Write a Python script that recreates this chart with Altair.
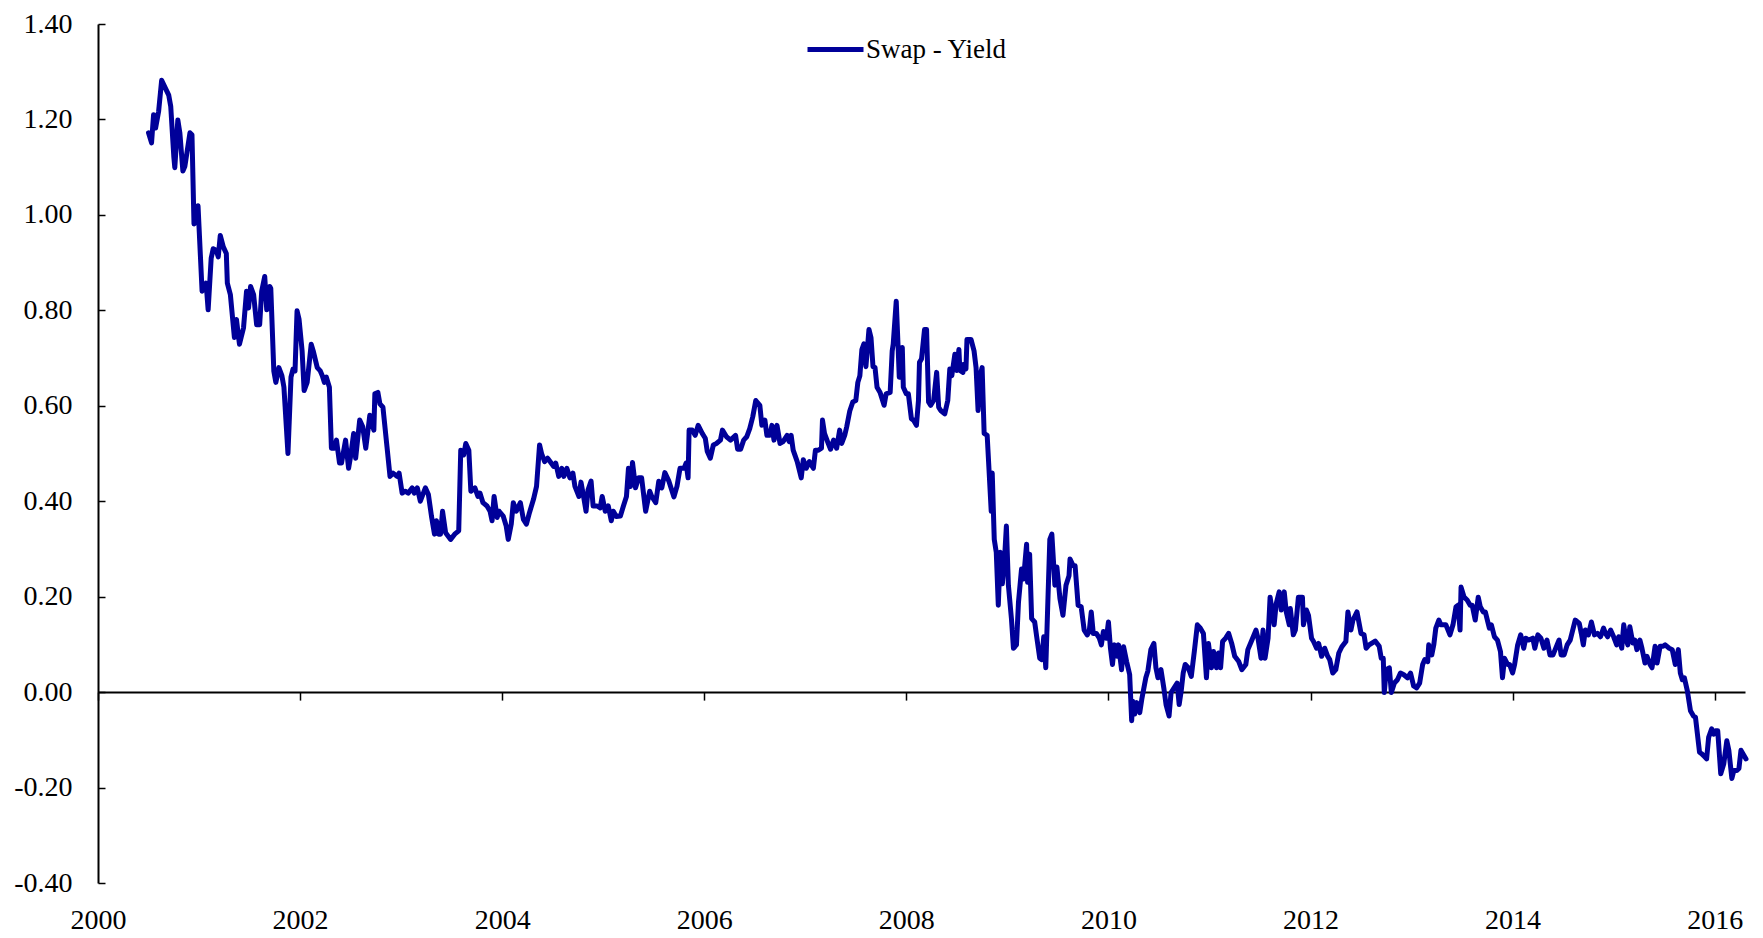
import altair as alt
import pandas as pd

# ---------------- data ----------------
series_name = "Swap - Yield"

years_a = [2000.50, 2000.53, 2000.55, 2000.57, 2000.60, 2000.63, 2000.70, 2000.72, 2000.75, 2000.76,
           2000.79, 2000.81, 2000.84, 2000.86, 2000.91, 2000.93, 2000.95, 2000.97, 2000.99, 2001.03,
           2001.07, 2001.09, 2001.12, 2001.14, 2001.17, 2001.19, 2001.21, 2001.24, 2001.27, 2001.28,
           2001.31, 2001.35, 2001.37, 2001.40, 2001.44, 2001.47, 2001.49, 2001.51, 2001.54, 2001.57,
           2001.60, 2001.62, 2001.65, 2001.67, 2001.70, 2001.71, 2001.74, 2001.76, 2001.79, 2001.82,
           2001.84, 2001.88, 2001.91, 2001.93, 2001.95, 2001.97, 2001.99, 2002.02, 2002.04, 2002.07,
           2002.11, 2002.13, 2002.17, 2002.20, 2002.22, 2002.24, 2002.26, 2002.29, 2002.31, 2002.34,
           2002.36, 2002.39, 2002.41, 2002.45, 2002.48, 2002.50, 2002.53, 2002.55, 2002.59, 2002.62,
           2002.65, 2002.69, 2002.73, 2002.74, 2002.77, 2002.79, 2002.82, 2002.86, 2002.89, 2002.92,
           2002.96, 2002.98, 2003.01, 2003.04, 2003.07, 2003.11, 2003.13, 2003.16, 2003.19, 2003.24,
           2003.27, 2003.30, 2003.33, 2003.35, 2003.37, 2003.39, 2003.41, 2003.44, 2003.49, 2003.53,
           2003.57, 2003.59, 2003.62, 2003.64, 2003.67, 2003.69, 2003.73, 2003.76, 2003.78, 2003.81,
           2003.85, 2003.88, 2003.90, 2003.92, 2003.95, 2003.97, 2004.01, 2004.04, 2004.06, 2004.09,
           2004.11, 2004.14, 2004.18, 2004.21, 2004.24, 2004.27, 2004.31, 2004.34, 2004.37, 2004.39,
           2004.42, 2004.45]
values_a = [1.172, 1.151, 1.210, 1.182, 1.217, 1.282, 1.251, 1.227, 1.123, 1.099,
            1.199, 1.172, 1.092, 1.102, 1.172, 1.168, 0.981, 0.985, 1.019, 0.840,
            0.857, 0.801, 0.909, 0.929, 0.926, 0.912, 0.957, 0.933, 0.919, 0.857,
            0.833, 0.743, 0.781, 0.729, 0.763, 0.840, 0.805, 0.850, 0.833, 0.770,
            0.770, 0.840, 0.871, 0.801, 0.850, 0.846, 0.673, 0.649, 0.680, 0.663,
            0.639, 0.500, 0.660, 0.677, 0.673, 0.799, 0.781, 0.715, 0.632, 0.649,
            0.729, 0.715, 0.680, 0.673, 0.663, 0.649, 0.660, 0.639, 0.511, 0.511,
            0.528, 0.480, 0.480, 0.528, 0.469, 0.494, 0.542, 0.490, 0.570, 0.556,
            0.511, 0.580, 0.549, 0.625, 0.628, 0.604, 0.597, 0.514, 0.452, 0.459,
            0.452, 0.459, 0.417, 0.421, 0.417, 0.428, 0.417, 0.428, 0.400, 0.428,
            0.414, 0.369, 0.331, 0.359, 0.331, 0.331, 0.379, 0.334, 0.320, 0.331,
            0.338, 0.507, 0.497, 0.521, 0.507, 0.421, 0.428, 0.410, 0.417, 0.397,
            0.390, 0.379, 0.359, 0.410, 0.366, 0.379, 0.369, 0.348, 0.320, 0.352,
            0.397, 0.379, 0.397, 0.362, 0.352, 0.376, 0.404, 0.431, 0.518, 0.500,
            0.483, 0.490]

years_b = [2004.51, 2004.53, 2004.56, 2004.59, 2004.61, 2004.64, 2004.67, 2004.70, 2004.72, 2004.76,
           2004.78, 2004.80, 2004.83, 2004.85, 2004.88, 2004.90, 2004.94, 2004.97, 2004.99, 2005.02,
           2005.05, 2005.08, 2005.10, 2005.13, 2005.17, 2005.20, 2005.23, 2005.25, 2005.27, 2005.29,
           2005.32, 2005.35, 2005.38, 2005.42, 2005.46, 2005.48, 2005.52, 2005.55, 2005.58, 2005.61,
           2005.65, 2005.70, 2005.73, 2005.76, 2005.80, 2005.82, 2005.84, 2005.85, 2005.88, 2005.91,
           2005.94, 2005.98, 2006.01, 2006.03, 2006.06, 2006.09, 2006.12, 2006.16, 2006.18, 2006.22,
           2006.26, 2006.31, 2006.33, 2006.36, 2006.39, 2006.42, 2006.45, 2006.48, 2006.51, 2006.55,
           2006.57, 2006.60, 2006.62, 2006.65, 2006.67, 2006.69, 2006.72, 2006.75, 2006.78, 2006.82,
           2006.84, 2006.86, 2006.88, 2006.92, 2006.96, 2006.98, 2007.01, 2007.04, 2007.08, 2007.10,
           2007.13, 2007.16, 2007.17, 2007.19, 2007.22, 2007.25, 2007.28, 2007.31, 2007.34, 2007.36,
           2007.39, 2007.41, 2007.44, 2007.47, 2007.50, 2007.52, 2007.54, 2007.56, 2007.58, 2007.60,
           2007.63, 2007.65, 2007.67, 2007.69, 2007.71, 2007.74, 2007.78, 2007.80, 2007.84, 2007.86,
           2007.87, 2007.90, 2007.92, 2007.93, 2007.96, 2007.97, 2008.00, 2008.02, 2008.05, 2008.07,
           2008.10, 2008.12, 2008.13, 2008.15, 2008.18, 2008.20, 2008.22, 2008.24, 2008.27, 2008.30,
           2008.32, 2008.34, 2008.38, 2008.41, 2008.43, 2008.45, 2008.48, 2008.50, 2008.52, 2008.53,
           2008.56, 2008.57, 2008.59, 2008.60, 2008.64, 2008.67, 2008.69, 2008.71, 2008.73, 2008.75,
           2008.77, 2008.80]
values_b = [0.473, 0.480, 0.452, 0.469, 0.452, 0.469, 0.449, 0.459, 0.431, 0.410,
            0.440, 0.417, 0.379, 0.424, 0.442, 0.390, 0.390, 0.386, 0.410, 0.379,
            0.390, 0.359, 0.379, 0.368, 0.369, 0.390, 0.410, 0.469, 0.431, 0.481,
            0.428, 0.449, 0.449, 0.379, 0.421, 0.410, 0.397, 0.442, 0.428, 0.460,
            0.442, 0.409, 0.431, 0.469, 0.469, 0.480, 0.449, 0.549, 0.549, 0.538,
            0.559, 0.542, 0.532, 0.504, 0.490, 0.518, 0.521, 0.528, 0.549, 0.535,
            0.528, 0.538, 0.509, 0.509, 0.528, 0.535, 0.552, 0.577, 0.611, 0.601,
            0.559, 0.570, 0.538, 0.538, 0.559, 0.528, 0.559, 0.521, 0.525, 0.538,
            0.525, 0.538, 0.507, 0.483, 0.449, 0.487, 0.469, 0.483, 0.469, 0.507,
            0.507, 0.511, 0.570, 0.542, 0.525, 0.509, 0.528, 0.511, 0.549, 0.521,
            0.538, 0.556, 0.589, 0.608, 0.611, 0.649, 0.663, 0.718, 0.730, 0.682,
            0.760, 0.743, 0.682, 0.680, 0.639, 0.628, 0.601, 0.625, 0.628, 0.715,
            0.729, 0.819, 0.715, 0.660, 0.722, 0.639, 0.625, 0.625, 0.573, 0.570,
            0.559, 0.611, 0.691, 0.698, 0.760, 0.760, 0.608, 0.601, 0.611, 0.670,
            0.597, 0.590, 0.583, 0.611, 0.677, 0.663, 0.708, 0.674, 0.718, 0.674,
            0.670, 0.687, 0.677, 0.739, 0.739, 0.715, 0.680, 0.590, 0.663, 0.680,
            0.542, 0.538]

years_c = [2008.82, 2008.84, 2008.85, 2008.87, 2008.89, 2008.91, 2008.93, 2008.95, 2008.97, 2008.99,
           2009.01, 2009.04, 2009.06, 2009.09, 2009.11, 2009.14, 2009.16, 2009.19, 2009.20, 2009.22,
           2009.24, 2009.27, 2009.29, 2009.32, 2009.34, 2009.36, 2009.38, 2009.42, 2009.44, 2009.47,
           2009.49, 2009.52, 2009.55, 2009.58, 2009.61, 2009.62, 2009.65, 2009.67, 2009.70, 2009.73,
           2009.76, 2009.79, 2009.81, 2009.83, 2009.85, 2009.88, 2009.91, 2009.93, 2009.95, 2009.98,
           2010.00, 2010.02, 2010.04, 2010.06, 2010.09, 2010.10, 2010.13, 2010.15, 2010.18, 2010.21,
           2010.23, 2010.24, 2010.26, 2010.28, 2010.31, 2010.33, 2010.37, 2010.39, 2010.42, 2010.45,
           2010.47, 2010.49, 2010.52, 2010.55, 2010.57, 2010.60, 2010.62, 2010.65, 2010.68, 2010.70,
           2010.72, 2010.74, 2010.76, 2010.79, 2010.82, 2010.85, 2010.88, 2010.91, 2010.94, 2010.97,
           2010.99, 2011.02, 2011.04, 2011.07, 2011.09, 2011.11, 2011.13, 2011.16, 2011.19, 2011.22,
           2011.25, 2011.29, 2011.32, 2011.36, 2011.38, 2011.42, 2011.46, 2011.48, 2011.51, 2011.53,
           2011.55, 2011.58, 2011.60, 2011.64, 2011.66, 2011.69, 2011.71, 2011.74, 2011.76, 2011.79,
           2011.80, 2011.83, 2011.85, 2011.88, 2011.92, 2011.93, 2011.96, 2011.98, 2012.01, 2012.03,
           2012.06, 2012.08, 2012.11, 2012.14, 2012.17, 2012.19, 2012.22, 2012.25, 2012.28, 2012.31,
           2012.35, 2012.37, 2012.40, 2012.42, 2012.46, 2012.50, 2012.53, 2012.55, 2012.58]
values_c = [0.459, 0.379, 0.459, 0.320, 0.293, 0.182, 0.293, 0.227, 0.272, 0.348,
            0.224, 0.154, 0.092, 0.099, 0.189, 0.258, 0.237, 0.310, 0.230, 0.289,
            0.154, 0.147, 0.116, 0.071, 0.068, 0.116, 0.051, 0.320, 0.331, 0.224,
            0.262, 0.196, 0.161, 0.224, 0.244, 0.279, 0.265, 0.265, 0.182, 0.179,
            0.130, 0.120, 0.127, 0.168, 0.123, 0.123, 0.113, 0.099, 0.127, 0.113,
            0.147, 0.092, 0.058, 0.099, 0.075, 0.099, 0.047, 0.095, 0.064, 0.037,
            -0.060, -0.019, -0.046, -0.022, -0.043, -0.015, 0.030, 0.044, 0.089, 0.102,
            0.051, 0.030, 0.047, 0.006, -0.026, -0.050, -0.001, 0.009, 0.019, -0.026,
            0.002, 0.040, 0.058, 0.051, 0.033, 0.085, 0.141, 0.134, 0.123, 0.030,
            0.102, 0.051, 0.085, 0.051, 0.082, 0.051, 0.106, 0.113, 0.123, 0.102,
            0.075, 0.064, 0.047, 0.058, 0.089, 0.109, 0.130, 0.113, 0.071, 0.130,
            0.071, 0.113, 0.199, 0.141, 0.185, 0.210, 0.172, 0.210, 0.168, 0.141,
            0.175, 0.120, 0.130, 0.199, 0.199, 0.141, 0.172, 0.161, 0.113, 0.106,
            0.092, 0.102, 0.075, 0.092, 0.075, 0.068, 0.040, 0.047, 0.082, 0.095,
            0.106, 0.168, 0.130, 0.151, 0.168, 0.123, 0.120, 0.092, 0.099]

years_d = [2012.64, 2012.68, 2012.70, 2012.72, 2012.73, 2012.75, 2012.78, 2012.80, 2012.83, 2012.86,
           2012.89, 2012.92, 2012.96, 2012.99, 2013.02, 2013.05, 2013.08, 2013.11, 2013.13, 2013.16,
           2013.17, 2013.20, 2013.22, 2013.24, 2013.27, 2013.29, 2013.34, 2013.38, 2013.41, 2013.44,
           2013.46, 2013.48, 2013.49, 2013.52, 2013.55, 2013.58, 2013.60, 2013.63, 2013.66, 2013.68,
           2013.71, 2013.73, 2013.77, 2013.79, 2013.82, 2013.85, 2013.88, 2013.90, 2013.92, 2013.95,
           2013.97, 2014.00, 2014.02, 2014.05, 2014.08, 2014.11, 2014.13, 2014.16, 2014.20, 2014.22,
           2014.25, 2014.28, 2014.31, 2014.34, 2014.37, 2014.40, 2014.44, 2014.46, 2014.48, 2014.51,
           2014.54, 2014.57, 2014.60, 2014.62, 2014.66, 2014.68, 2014.70, 2014.72, 2014.75, 2014.78,
           2014.81, 2014.84, 2014.87, 2014.90, 2014.92, 2014.94, 2014.97, 2015.00, 2015.03, 2015.05,
           2015.08, 2015.10, 2015.12, 2015.14, 2015.16, 2015.19, 2015.21, 2015.23, 2015.26, 2015.28,
           2015.31, 2015.33, 2015.36, 2015.38, 2015.41, 2015.43, 2015.46, 2015.49, 2015.51, 2015.55,
           2015.58, 2015.61, 2015.64, 2015.66, 2015.68, 2015.70, 2015.73, 2015.76, 2015.79, 2015.81,
           2015.85, 2015.87, 2015.89, 2015.92, 2015.94, 2015.97, 2015.99, 2016.01, 2016.03, 2016.06,
           2016.09, 2016.12, 2016.14, 2016.17, 2016.19, 2016.22, 2016.24, 2016.26, 2016.28, 2016.31]
values_d = [0.107, 0.096, 0.071, 0.071, -0.001, 0.047, 0.051, -0.001, 0.019, 0.026,
            0.040, 0.037, 0.030, 0.040, 0.013, 0.009, 0.019, 0.058, 0.068, 0.064,
            0.099, 0.078, 0.099, 0.134, 0.151, 0.141, 0.141, 0.120, 0.141, 0.179,
            0.182, 0.130, 0.220, 0.199, 0.193, 0.182, 0.182, 0.151, 0.199, 0.179,
            0.168, 0.168, 0.134, 0.141, 0.116, 0.109, 0.085, 0.030, 0.071, 0.058,
            0.058, 0.040, 0.058, 0.099, 0.120, 0.092, 0.113, 0.109, 0.113, 0.092,
            0.120, 0.113, 0.092, 0.109, 0.078, 0.078, 0.099, 0.109, 0.078, 0.078,
            0.099, 0.109, 0.134, 0.151, 0.144, 0.123, 0.099, 0.130, 0.120, 0.147,
            0.120, 0.123, 0.116, 0.134, 0.123, 0.116, 0.130, 0.116, 0.099, 0.116,
            0.092, 0.141, 0.113, 0.099, 0.137, 0.103, 0.109, 0.089, 0.109, 0.092,
            0.061, 0.075, 0.058, 0.051, 0.096, 0.061, 0.096, 0.096, 0.099, 0.092,
            0.089, 0.058, 0.089, 0.040, 0.026, 0.030, 0.002, -0.039, -0.050, -0.053,
            -0.126, -0.129, -0.133, -0.140, -0.095, -0.077, -0.088, -0.081, -0.081, -0.171,
            -0.150, -0.102, -0.122, -0.181, -0.164, -0.164, -0.160, -0.122, -0.129, -0.140]

x_tick_values = [2000, 2002, 2004, 2006, 2008, 2010, 2012, 2014, 2016]
y_tick_values = [-0.4, -0.2, 0.0, 0.2, 0.4, 0.6, 0.8, 1.0, 1.2, 1.4]
x_domain = [2000, 2016.3]
y_domain = [-0.4, 1.4]

# ---------------- table ----------------
years = years_a + years_b + years_c + years_d
values = values_a + values_b + values_c + values_d
df = pd.DataFrame({"year": years, "value": values, "series": series_name})

# ---------------- style ----------------
W, H = 1647, 859
FONT = "Liberation Serif"
LINE_COLOR = "#000099"
FS = 28
zero_offset = -H * (0 - y_domain[0]) / (y_domain[1] - y_domain[0])

x_scale = alt.Scale(domain=x_domain, nice=False, zero=False)
y_scale = alt.Scale(domain=y_domain, nice=False, zero=False)

y_label_expr = "replace(format(datum.value, '.2f'), '\u2212', '-')"

base = alt.Chart(df)

# axis lines and ticks: x axis crossing at zero, y axis with inside ticks
axes_layer = base.mark_line(opacity=0).encode(
    x=alt.X("year:Q", scale=x_scale,
            axis=alt.Axis(orient="bottom", offset=zero_offset, values=x_tick_values,
                          labels=False, domain=True, domainColor="black", domainWidth=2,
                          ticks=True, tickSize=8, tickColor="black", tickWidth=1.5,
                          grid=False, title=None)),
    y=alt.Y("value:Q", scale=y_scale,
            axis=alt.Axis(orient="right", offset=-W, values=y_tick_values,
                          labels=False, domain=True, domainColor="black", domainWidth=2,
                          ticks=True, tickSize=7, tickColor="black", tickWidth=1.5,
                          grid=False, title=None)),
)

# axis labels only
labels_layer = base.mark_line(opacity=0).encode(
    x=alt.X("year:Q", scale=x_scale,
            axis=alt.Axis(orient="bottom", values=x_tick_values, format="d",
                          domain=False, ticks=False, tickSize=0, labelPadding=23,
                          labelFlush=False, labelOverlap=False, labelFont=FONT,
                          labelFontSize=FS, labelColor="black", grid=False, title=None)),
    y=alt.Y("value:Q", scale=y_scale,
            axis=alt.Axis(orient="left", values=y_tick_values, labelExpr=y_label_expr,
                          domain=False, ticks=False, tickSize=0, labelPadding=26,
                          labelFlush=False, labelOverlap=False, labelFont=FONT,
                          labelFontSize=FS, labelColor="black", grid=False, title=None)),
)

line_layer = base.mark_line(strokeWidth=5, strokeJoin="round", strokeCap="round").encode(
    x=alt.X("year:Q", scale=x_scale, axis=None),
    y=alt.Y("value:Q", scale=y_scale, axis=None),
    color=alt.Color("series:N", scale=alt.Scale(range=[LINE_COLOR]),
                    legend=alt.Legend(orient="none", legendX=707, legendY=-5, title=None,
                                      symbolType="stroke", symbolSize=3136,
                                      symbolStrokeWidth=5, symbolStrokeColor=LINE_COLOR,
                                      labelFont=FONT, labelFontSize=27, labelColor="black",
                                      labelOffset=0, padding=0)),
)

chart = (
    alt.layer(axes_layer, labels_layer, line_layer)
    .resolve_axis(x="independent", y="independent")
    .properties(width=W, height=H,
                autosize=alt.AutoSizeParams(type="none"),
                padding={"left": 90, "top": 16, "right": 8, "bottom": 54},
                background="white")
    .configure_view(stroke=None)
)

chart.save("out.html", embed_options={"renderer": "svg", "actions": False})
